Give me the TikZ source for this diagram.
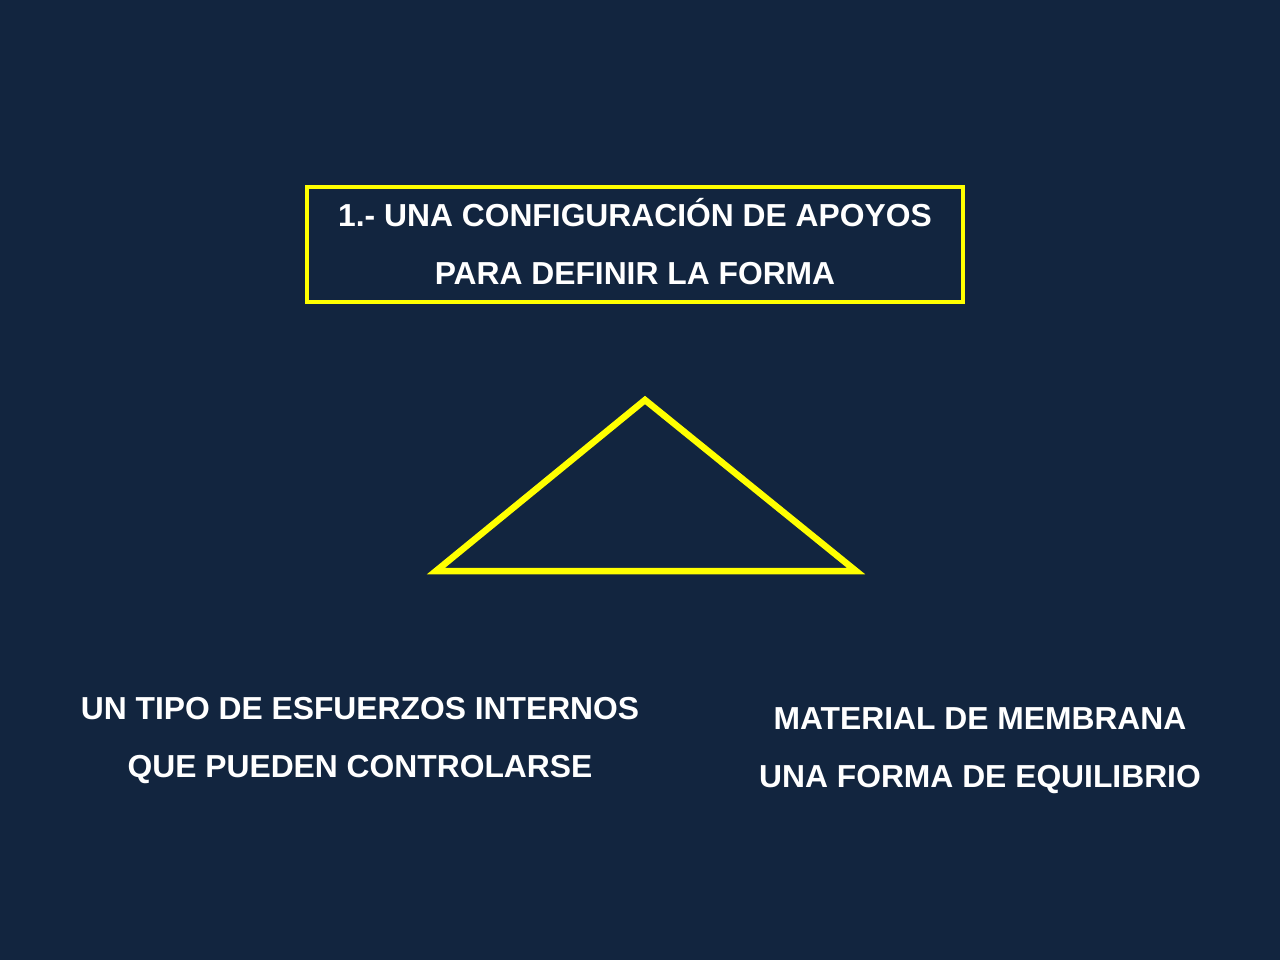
\documentclass[tikz,border=0pt]{standalone}
\usepackage{fontspec}
\setmainfont{Liberation Sans}
\definecolor{bg}{HTML}{12253F}
\definecolor{ylw}{HTML}{FFFF00}
\begin{document}
\begin{tikzpicture}[x=1pt,y=-1pt,
  txt/.style={text=white,font=\fontsize{31.8}{58}\selectfont\bfseries,align=center,inner sep=0pt}]
\fill[bg] (0,0) rectangle (1280,960);
\useasboundingbox (0,0) rectangle (1280,960);
\draw[ylw,line width=4] (307,187) rectangle (963,302);
\node[txt] (title) at (635,241.5) {1.- UNA CONFIGURACIÓN DE APOYOS\\PARA DEFINIR LA FORMA};
\coordinate (apex) at (645,400);
\coordinate (bl) at (436,571);
\coordinate (br) at (856,571);
\draw[ylw,line width=6.5,line join=miter] (apex) -- (br) -- (bl) -- cycle;
\node[txt] (left) at (360,741) {UN TIPO DE ESFUERZOS INTERNOS\\QUE PUEDEN CONTROLARSE};
\node[txt] (right) at (980,751) {MATERIAL DE MEMBRANA\\UNA FORMA DE EQUILIBRIO};
\end{tikzpicture}
\end{document}
